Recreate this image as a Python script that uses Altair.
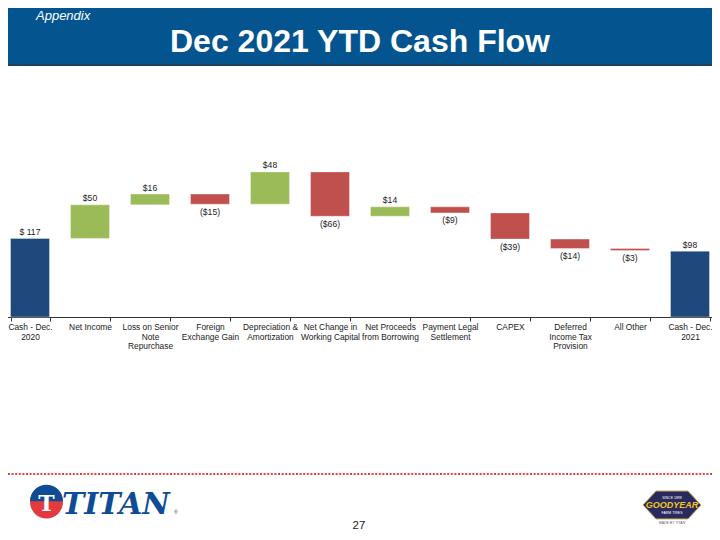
import altair as alt
import pandas as pd

# ---------------- data ----------------
categories = ["Cash - Dec.|2020", "Net Income", "Loss on Senior|Note|Repurchase",
              "Foreign|Exchange Gain", "Depreciation &|Amortization",
              "Net Change in|Working Capital", "Net Proceeds|from Borrowing",
              "Payment Legal|Settlement", "CAPEX", "Deferred|Income Tax|Provision",
              "All Other", "Cash - Dec.|2021"]
values = [117, 50, 16, -15, 48, -66, 14, -9, -39, -14, -3, 98]
kinds = ["total", "up", "up", "down", "up", "down", "up", "down", "down", "down", "down", "total"]
value_labels = ["$ 117", "$50", "$16", "($15)", "$48", "($66)", "$14", "($9)",
                "($39)", "($14)", "($3)", "$98"]

title_text = "Dec 2021 YTD Cash Flow"
section_text = "Appendix"
page_number = "27"

# build waterfall table
rows = []
running = 0
for c, v, k, lab in zip(categories, values, kinds, value_labels):
    if k == "total":
        start, end = 0, v
        running = v
    else:
        start, end = running, running + v
        running = end
    lo, hi = min(start, end), max(start, end)
    rows.append({"cat": c, "start": start, "end": end, "kind": k, "label": lab,
                 "lo": lo, "hi": hi, "neg": v < 0})
df = pd.DataFrame(rows)
one = pd.DataFrame({"k": [0]})

SANS = "Liberation Sans, Arial, sans-serif"

xenc = alt.X("cat:N", sort=categories,
             scale=alt.Scale(range=[-8, 712], paddingInner=0.35, paddingOuter=0.175),
             axis=alt.Axis(title=None, labelAngle=0, labelExpr="split(datum.label, '|')",
                           labelFont=SANS, labelFontSize=8.4, labelColor="#1a1a1a",
                           labelLineHeight=9.6, labelPadding=1.5, labelOverlap=False,
                           labelBound=False, labelLimit=0,
                           tickBand="extent", tickSize=4, tickColor="#333333",
                           domainColor="#333333", domainWidth=1, ticks=True, grid=False))
yscale = alt.Scale(domain=[0, 460], nice=False, zero=True)

bars = alt.Chart(df).mark_bar(stroke="white", strokeWidth=0.6, strokeOpacity=0.6).encode(
    x=xenc,
    y=alt.Y("start:Q", scale=yscale, axis=None),
    y2="end:Q",
    color=alt.Color("kind:N", legend=None,
                    scale=alt.Scale(domain=["total", "up", "down"],
                                    range=["#1F497D", "#9BBB59", "#C0504D"])),
)

pos_labels = alt.Chart(df).transform_filter("!datum.neg").mark_text(
    font=SANS, fontSize=8.6, color="#1a1a1a", baseline="alphabetic", dy=-3.5
).encode(x=alt.X("cat:N", sort=categories), y=alt.Y("hi:Q", scale=yscale), text="label:N")

neg_labels = alt.Chart(df).transform_filter("datum.neg").mark_text(
    font=SANS, fontSize=8.6, color="#1a1a1a", baseline="top", dy=3.5
).encode(x=alt.X("cat:N", sort=categories), y=alt.Y("lo:Q", scale=yscale), text="label:N")

# ---------------- slide decoration ----------------
header = alt.Chart(one).mark_rect(color="#04558F").encode(
    x=alt.value(0), x2=alt.value(704), y=alt.value(0), y2=alt.value(57))
header_line = alt.Chart(one).mark_rect(color="#2E3A46").encode(
    x=alt.value(0), x2=alt.value(704), y=alt.value(56.5), y2=alt.value(58))
section = alt.Chart(one).mark_text(
    text=section_text, font=SANS, fontStyle="italic", fontSize=13, color="white",
    align="left", baseline="middle").encode(x=alt.value(28), y=alt.value(8))
title = alt.Chart(one).mark_text(
    text=title_text, font=SANS, fontWeight="bold", fontSize=32, color="white",
    align="center", baseline="middle").encode(x=alt.value(352), y=alt.value(34))

dotted = alt.Chart(one).mark_rule(color="#E8404A", strokeWidth=2.2, strokeDash=[2, 1.6]).encode(
    x=alt.value(0), x2=alt.value(704), y=alt.value(466))

page = alt.Chart(one).mark_text(
    text=page_number, font=SANS, fontSize=11.5, color="#1a1a1a",
    align="center", baseline="middle").encode(x=alt.value(351), y=alt.value(518))

# Titan logo (approximation)
t_circle = alt.Chart(one).mark_point(shape="circle", filled=True, size=1089, opacity=1,
                                     color="#E23A3F").encode(x=alt.value(38.5), y=alt.value(494))
t_top = alt.Chart(one).mark_point(shape="M -1 -0.05 A 1 1 0 0 1 1 -0.05 Z", filled=True,
                                  size=1089, opacity=1, color="#0E4C96").encode(
    x=alt.value(38.5), y=alt.value(494))
t_bar = alt.Chart(one).mark_text(text="T", font="DejaVu Serif", fontWeight="bold",
                                 fontSize=22, color="white", align="center",
                                 baseline="middle").encode(x=alt.value(38.5), y=alt.value(496))
t_text = alt.Chart(one).mark_text(
    text="TITAN", font="DejaVu Serif", fontStyle="italic", fontWeight="bold", fontSize=30,
    color="#0E4C96", align="left", baseline="alphabetic").encode(x=alt.value(54), y=alt.value(506))
t_reg = alt.Chart(one).mark_text(text="®", font=SANS, fontSize=5, color="#0E4C96",
                                 align="left", baseline="alphabetic").encode(
    x=alt.value(166), y=alt.value(506))

# Goodyear logo (approximation)
g_shape = alt.Chart(one).mark_point(
    shape="M -1 0 L -0.55 -0.48 L 0.55 -0.48 L 1 0 L 0.55 0.48 L -0.55 0.48 Z",
    filled=True, size=3364, opacity=1, color="#2B2A5C", stroke="#B89E55", strokeWidth=1
).encode(x=alt.value(664), y=alt.value(497))
g_since = alt.Chart(one).mark_text(text="SINCE 1898", font=SANS, fontSize=3.5, color="white",
                                   align="center", baseline="middle").encode(
    x=alt.value(664), y=alt.value(489.5))
g_name = alt.Chart(one).mark_text(text="GOODYEAR", font=SANS, fontWeight="bold",
                                  fontStyle="italic", fontSize=9, color="#F2C81F",
                                  align="center", baseline="middle").encode(
    x=alt.value(664), y=alt.value(497))
g_farm = alt.Chart(one).mark_text(text="FARM TIRES", font=SANS, fontSize=3.5, color="white",
                                  align="center", baseline="middle").encode(
    x=alt.value(664), y=alt.value(504.5))
g_made = alt.Chart(one).mark_text(text="MADE BY TITAN", font=SANS, fontSize=3.5,
                                  color="#666666", align="center", baseline="middle").encode(
    x=alt.value(664), y=alt.value(515))

chart = alt.layer(
    header, header_line, section, title,
    bars, pos_labels, neg_labels,
    dotted, page,
    t_circle, t_top, t_bar, t_text, t_reg,
    g_shape, g_since, g_name, g_farm, g_made,
).properties(
    width=704, height=309,
    autosize=alt.AutoSizeParams(type="none"),
    padding={"left": 0, "top": 0, "right": 0, "bottom": 215},
    background="white",
).configure_view(strokeWidth=0)

chart.save("out.html", embed_options={"renderer": "svg", "actions": False})
